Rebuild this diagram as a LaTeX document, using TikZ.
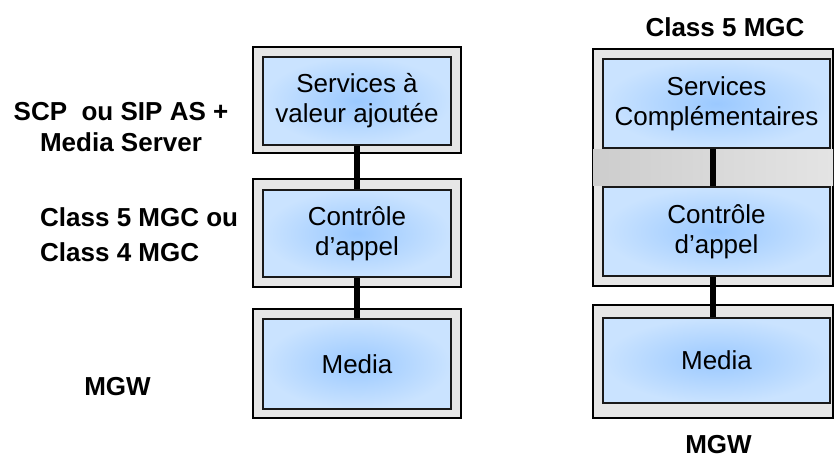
\documentclass[tikz,border=0pt]{standalone}
\usepackage{fontspec}
\setmainfont{Liberation Sans}
\definecolor{framegray}{RGB}{230,230,230}
\definecolor{layerin}{RGB}{155,201,255}
\definecolor{layerout}{RGB}{202,227,255}
\definecolor{gapdark}{RGB}{160,160,160}
\definecolor{gapleft}{RGB}{205,205,205}
\definecolor{gapright}{RGB}{228,228,228}
\begin{document}
\begin{tikzpicture}[x=1pt,y=-1pt,
  frame/.style={draw=black, line width=1.3pt, fill=framegray, inner sep=0pt},
  layer/.style={draw=black!90, line width=1.5pt, inner color=layerin, outer color=layerout,
    align=center, inner sep=0pt, font=\fontsize{26}{30}\selectfont},
  link/.style={line width=5.5pt},
  tag/.style={inner sep=0pt, font=\bfseries\fontsize{26}{31}\selectfont}]
\useasboundingbox (0,0) rectangle (834,458);

% left stack: three separate frames
\node[frame, minimum width=208pt, minimum height=106pt] (LF1) at (357,100) {};
\node[frame, minimum width=208pt, minimum height=108pt] (LF2) at (357,233) {};
\node[frame, minimum width=208pt, minimum height=109pt] (LF3) at (357,363.5) {};
\node[layer, minimum width=188pt, minimum height=88pt] (L1) at (357,101) {Services à\\valeur ajoutée};
\node[layer, minimum width=188pt, minimum height=87pt] (L2) at (357,233.5) {Contrôle\\d’appel};
\node[layer, minimum width=188pt, minimum height=90pt] (L3) at (357,364) {Media};
\draw[link] (L1.south) -- (L2.north);
\draw[link] (L2.south) -- (L3.north);

% right stack: services and call control share one frame
\node[frame, minimum width=240pt, minimum height=237pt] (RF1) at (713,167.5) {};
\node[frame, minimum width=240pt, minimum height=113pt] (RF2) at (713,361.5) {};
\node[layer, minimum width=227pt, minimum height=89pt] (R1) at (716.5,103.5) {Services\\Complémentaires};
\node[layer, minimum width=227pt, minimum height=89pt] (R2) at (716.5,231.5) {Contrôle\\d’appel};
\node[layer, minimum width=227pt, minimum height=85pt] (R3) at (716.5,360.5) {Media};
% shaded band between the two upper layers
\fill[left color=gapleft, middle color=gapdark, right color=gapright]
  ([xshift=0.65pt,yshift=-0.75pt]RF1.west |- R1.south) rectangle ([xshift=-0.65pt,yshift=0.75pt]RF1.east |- R2.north);
\draw[link] ([xshift=-3.5pt]R1.south) -- ([xshift=-3.5pt]R2.north);
\draw[link] ([xshift=-3.5pt]R2.south) -- ([xshift=-3.5pt]R3.north);

% labels
\node[tag, align=center] (scp) at (121,127) {SCP\ \ ou SIP AS +\\Media Server};
\node[tag, align=left, anchor=west, font=\bfseries\fontsize{26}{35}\selectfont] (mgc) at (40,235) {Class 5 MGC ou\\Class 4 MGC};
\node[tag] (mgwl) at (117.5,387) {MGW};
\node[tag] (c5) at (725,27) {Class 5 MGC};
\node[tag] (mgwr) at (718.5,445) {MGW};
\end{tikzpicture}
\end{document}
